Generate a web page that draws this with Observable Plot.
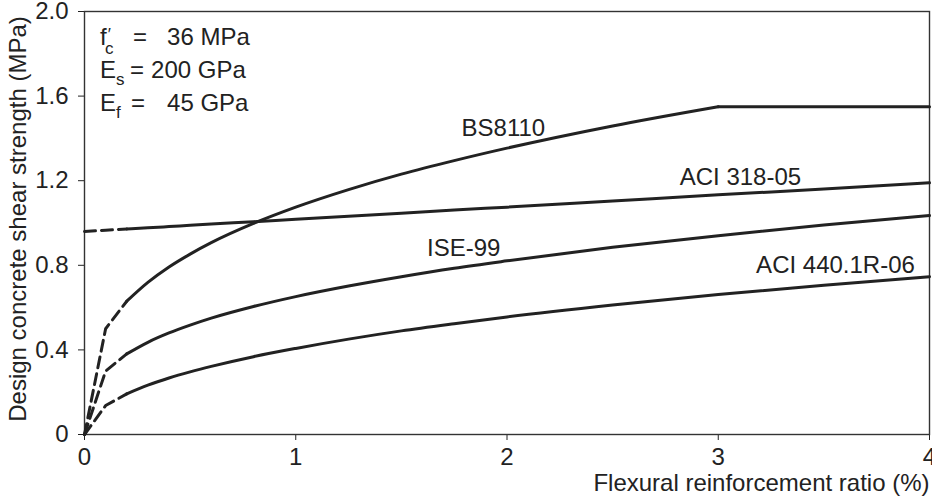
<!DOCTYPE html>
<html>
<head>
<meta charset="utf-8">
<script src="https://cdn.jsdelivr.net/npm/d3@7"></script>
<script src="https://cdn.jsdelivr.net/npm/@observablehq/plot@0.6"></script>
<style>
  html, body { margin: 0; padding: 0; background: #fff; }
  #chart { width: 932px; height: 497px; }
</style>
</head>
<body>
<div id="chart"></div>
<script>
// Flexural reinforcement ratio (%)
const rho     = [0, 0.1, 0.2, 0.3, 0.4, 0.5, 0.6, 0.8, 1, 1.25, 1.5, 1.75, 2, 2.5, 3, 3.5, 4];
// Design concrete shear strength (MPa)
const bs8110  = [0, 0.50, 0.63, 0.719, 0.792, 0.853, 0.907, 0.998, 1.075, 1.158, 1.231, 1.295, 1.354, 1.459, 1.550, 1.550, 1.550];
const aci318  = [0.960, 0.966, 0.972, 0.977, 0.983, 0.989, 0.995, 1.006, 1.018, 1.032, 1.046, 1.061, 1.075, 1.104, 1.133, 1.161, 1.190];
const ise99   = [0, 0.30, 0.381, 0.436, 0.480, 0.517, 0.550, 0.605, 0.652, 0.702, 0.746, 0.786, 0.821, 0.885, 0.940, 0.990, 1.035];
const aci440  = [0, 0.137, 0.192, 0.233, 0.267, 0.296, 0.322, 0.368, 0.407, 0.451, 0.490, 0.524, 0.556, 0.612, 0.662, 0.706, 0.746];

const seriesNames = ["BS8110", "ACI 318-05", "ISE-99", "ACI 440.1R-06"];
const seriesValues = [bs8110, aci318, ise99, aci440];
const dashEnd = 0.2;       // dashed below this ratio
const bsBreak = 3;         // BS8110 capped beyond this ratio

// curve labels
const labelNames = ["BS8110", "ACI 318-05", "ISE-99", "ACI 440.1R-06"];
const labelX = [1.983, 3.105, 1.795, 3.555];
const labelY = [1.447, 1.215, 0.879, 0.800];

// material annotation
const annoMain = ["f", "E", "E"];
const annoSub  = ["c", "s", "f"];
const annoValue = ["36 MPa", "200 GPa", "45 GPa"];
const annoX = 0.076;
const annoY = [1.877, 1.721, 1.565];

const xTicks = [0, 1, 2, 3, 4];
const yTicks = [0, 0.4, 0.8, 1.2, 1.6, 2.0];

const xTitle = "Flexural reinforcement ratio (%)";
const yTitle = "Design concrete shear strength (MPa)";

// build rows
const solid = [], dashed = [];
seriesNames.forEach((name, s) => {
  rho.forEach((r, i) => {
    const v = seriesValues[s][i];
    if (r <= dashEnd) dashed.push({series: name, rho: r, v});
    if (r >= dashEnd) {
      if (name === "BS8110") {
        if (r <= bsBreak) solid.push({series: name + "-a", rho: r, v});
        if (r >= bsBreak) solid.push({series: name + "-b", rho: r, v});
      } else solid.push({series: name, rho: r, v});
    }
  });
});
const labels = labelNames.map((t, i) => ({t, x: labelX[i], y: labelY[i]}));
const anno = annoMain.map((m, i) => ({m, s: annoSub[i], v: annoValue[i], y: annoY[i], i}));

const FONT = "'Liberation Sans', Arial, Helvetica, sans-serif";
const INK = "#222";
const FS = 24;
const eqDx = [33, 30, 31];
const valDx = [67, 51, 67];

function annotationMark(index, scales) {
  const g = d3.create("svg:g").attr("font-family", FONT).attr("font-size", FS).attr("fill", INK).attr("text-anchor", "start");
  anno.forEach(a => {
    const x0 = scales.x(annoX), y0 = scales.y(a.y);
    const t = g.append("text").attr("x", x0).attr("y", y0).attr("dy", "0.35em");
    t.append("tspan").text(a.m);
    if (a.i === 0) {
      t.append("tspan").attr("font-size", 17).attr("dy", "-0.3em").attr("dx", "1").text("\u2032");
      t.append("tspan").attr("font-size", 17).attr("dy", "0.8em").attr("dx", "-6").text(a.s);
    } else {
      t.append("tspan").attr("font-size", 17).attr("dy", "0.4em").text(a.s);
    }
    g.append("text").attr("x", x0 + eqDx[a.i]).attr("y", y0).attr("dy", "0.35em").text("=");
    g.append("text").attr("x", x0 + valDx[a.i]).attr("y", y0).attr("dy", "0.35em").text(a.v);
  });
  return g.node();
}

const chart = Plot.plot({
  width: 932,
  height: 497,
  marginLeft: 84,
  marginRight: 3,
  marginTop: 11,
  marginBottom: 63,
  style: {fontFamily: FONT, fontSize: FS + "px", color: INK, background: "#fff"},
  x: {domain: [0, 4], ticks: xTicks, tickSize: 6, tickPadding: 7, tickFormat: d => String(d), label: null},
  y: {domain: [0, 2], ticks: yTicks, tickSize: 6, tickPadding: 10, tickFormat: d => d === 0 ? "0" : d.toFixed(1), label: null},
  marks: [
    Plot.frame({stroke: "#333", strokeWidth: 1.4}),
    Plot.line(dashed, {x: "rho", y: "v", z: "series", stroke: INK, strokeWidth: 3, strokeDasharray: "11,6", curve: "linear"}),
    Plot.line(solid, {x: "rho", y: "v", z: "series", stroke: INK, strokeWidth: 3, curve: "monotone-x"}),
    Plot.text(labels, {x: "x", y: "y", text: "t", fill: INK, fontSize: FS, textAnchor: "middle"}),
    annotationMark,
    Plot.text([xTitle], {frameAnchor: "bottom-right", dy: 56, textAnchor: "end", fill: INK, fontSize: FS}),
    Plot.text([yTitle], {frameAnchor: "left", dx: -66, dy: -4, rotate: -90, textAnchor: "middle", fill: INK, fontSize: FS})
  ]
});
document.getElementById("chart").appendChild(chart);
</script>
</body>
</html>
